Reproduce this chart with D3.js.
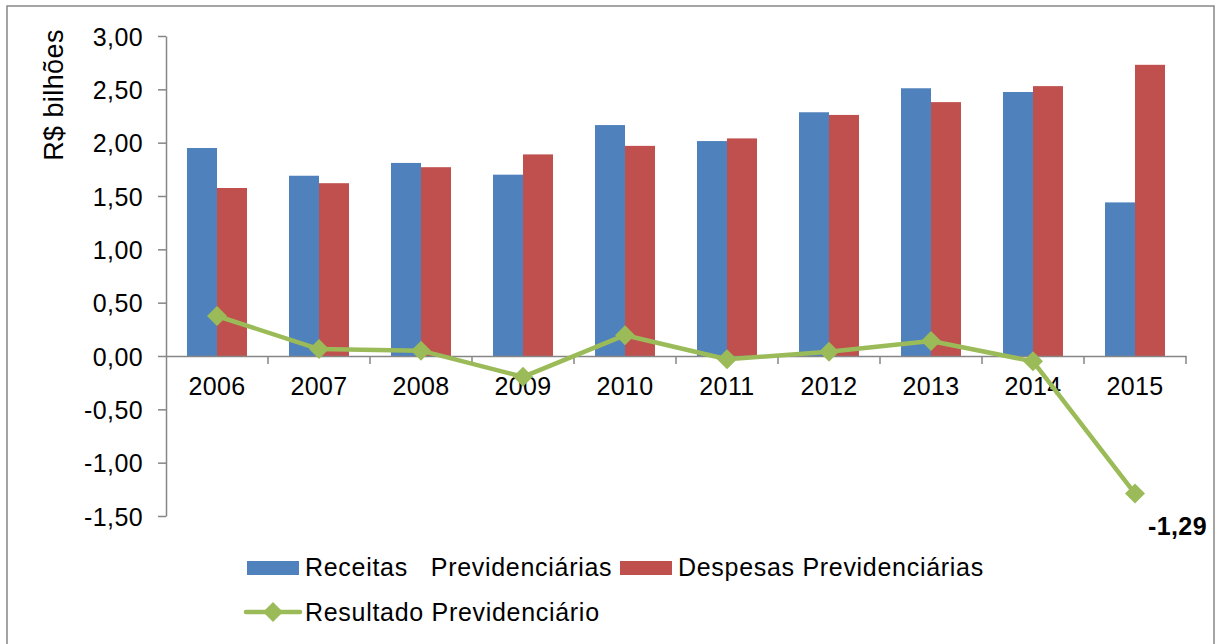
<!DOCTYPE html>
<html>
  <head>
    <meta charset="utf-8">
    <title>Resultado previdenciário</title>
    <script src="https://cdn.jsdelivr.net/npm/d3@7"></script>
    <style>
      body { margin: 0; background: #fff; }
      svg { display: block; font-family: "Liberation Sans", Arial, sans-serif; }
      .tick text, .lbl { font-size: 25px; fill: #000; letter-spacing: .4px; }
      .lbl { white-space: pre; }
      .leg { letter-spacing: .7px; }
    </style>
  </head>
  <body>
    <svg id="chart" width="1216" height="644"></svg>

    <script>
      // data
      anos = ["2006", "2007", "2008", "2009", "2010", "2011", "2012", "2013", "2014", "2015"];
      receitas = [1.95, 1.69, 1.81, 1.70, 2.165, 2.015, 2.285, 2.51, 2.475, 1.44];
      despesas = [1.575, 1.62, 1.77, 1.89, 1.97, 2.04, 2.26, 2.38, 2.53, 2.73];
      resultado = [0.375, 0.065, 0.05, -0.195, 0.195, -0.03, 0.04, 0.14, -0.05, -1.29];
      yTicks = [-1.5, -1, -0.5, 0, 0.5, 1, 1.5, 2, 2.5, 3];
      series = ["Receitas   Previdenciárias", "Despesas Previdenciárias", "Resultado Previdenciário"];
      eixoY = "R$ bilhões";

      blue = "#4f81bd";
      red = "#c0504d";
      green = "#9bbb59";
      grey = "#868686";

      br = d3.formatLocale({ decimal: ",", thousands: ".", grouping: [3], currency: ["R$", ""], minus: "-" });
      fmt = br.format(".2f");

      svg = d3.select("#chart");

      // frame
      svg.append("rect")
        .attr("x", 7).attr("y", 6)
        .attr("width", 1207).attr("height", 660)
        .attr("fill", "none")
        .attr("stroke", grey)
        .attr("stroke-width", 1.5);

      // scales
      x = d3.scaleBand().domain(anos).range([166, 1186]);
      x1 = d3.scaleBand().domain(["rec", "desp"]).range([21, 81]);
      y = d3.scaleLinear().domain([-1.5, 3]).range([516, 36]);

      // bars
      bars = svg.append("g");
      bars.selectAll(".rec")
        .data(receitas)
        .enter().append("rect")
          .attr("x", function(d, i) { return x(anos[i]) + x1("rec"); })
          .attr("width", x1.bandwidth())
          .attr("y", function(d) { return y(d); })
          .attr("height", function(d) { return y(0) - y(d); })
          .attr("fill", blue);
      bars.selectAll(".desp")
        .data(despesas)
        .enter().append("rect")
          .attr("x", function(d, i) { return x(anos[i]) + x1("desp"); })
          .attr("width", x1.bandwidth())
          .attr("y", function(d) { return y(d); })
          .attr("height", function(d) { return y(0) - y(d); })
          .attr("fill", red);

      // y axis
      yAxis = svg.append("g")
        .attr("transform", "translate(166,0)")
        .call(d3.axisLeft(y).tickValues(yTicks).tickFormat(fmt).tickSize(8).tickSizeOuter(0).tickPadding(15));
      yAxis.selectAll("path, line").attr("stroke", grey).attr("stroke-width", 1.5);
      yAxis.selectAll("text").attr("dy", "0.36em").attr("font-family", null).attr("font-size", null);

      // x axis
      xAxis = svg.append("g")
        .attr("transform", "translate(0," + y(0) + ")")
        .call(d3.axisBottom(x).tickSize(0).tickSizeOuter(0));
      xAxis.select(".domain").attr("stroke", grey).attr("stroke-width", 1.5);
      xAxis.selectAll("text").attr("y", 39).attr("dy", null).attr("font-family", null).attr("font-size", null);
      xAxis.selectAll(".edge")
        .data(anos)
        .enter().append("line")
          .attr("x1", function(d) { return x(d) + x.bandwidth(); })
          .attr("x2", function(d) { return x(d) + x.bandwidth(); })
          .attr("y1", 0).attr("y2", 8)
          .attr("stroke", grey).attr("stroke-width", 1.5);

      // y title
      svg.append("text")
        .attr("class", "lbl")
        .attr("transform", "translate(63,95) rotate(-90)")
        .attr("text-anchor", "middle")
        .style("font-size", "27px")
        .text(eixoY);

      // line
      line = d3.line()
        .x(function(d, i) { return x(anos[i]) + x.bandwidth() / 2; })
        .y(function(d) { return y(d); });
      svg.append("path")
        .datum(resultado)
        .attr("d", line)
        .attr("fill", "none")
        .attr("stroke", green)
        .attr("stroke-width", 4.5)
        .attr("stroke-linejoin", "round");

      diamond = "M0,-10L10,0L0,10L-10,0Z";
      svg.selectAll(".mark")
        .data(resultado)
        .enter().append("path")
          .attr("d", diamond)
          .attr("transform", function(d, i) { return "translate(" + (x(anos[i]) + x.bandwidth() / 2) + "," + y(d) + ")"; })
          .attr("fill", green);

      // data label on last point
      last = resultado.length - 1;
      svg.append("text")
        .attr("class", "lbl")
        .attr("font-weight", "bold")
        .attr("x", x(anos[last]) + x.bandwidth() / 2 + 13)
        .attr("y", y(resultado[last]) + 41)
        .text(fmt(resultado[last]));

      // legend
      legend = svg.append("g");
      legend.append("rect").attr("x", 247).attr("y", 561).attr("width", 52).attr("height", 14).attr("fill", blue);
      legend.append("text").attr("class", "lbl leg").attr("x", 305).attr("y", 576).text(series[0]);
      legend.append("rect").attr("x", 620).attr("y", 561).attr("width", 52).attr("height", 14).attr("fill", red);
      legend.append("text").attr("class", "lbl leg").attr("x", 678).attr("y", 576).text(series[1]);
      legend.append("line")
        .attr("x1", 246).attr("x2", 300).attr("y1", 612).attr("y2", 612)
        .attr("stroke", green).attr("stroke-width", 4.5).attr("stroke-linecap", "round");
      legend.append("path").attr("d", diamond).attr("transform", "translate(273,612)").attr("fill", green);
      legend.append("text").attr("class", "lbl leg").attr("x", 305).attr("y", 621).text(series[2]);
    </script>
  </body>
</html>
